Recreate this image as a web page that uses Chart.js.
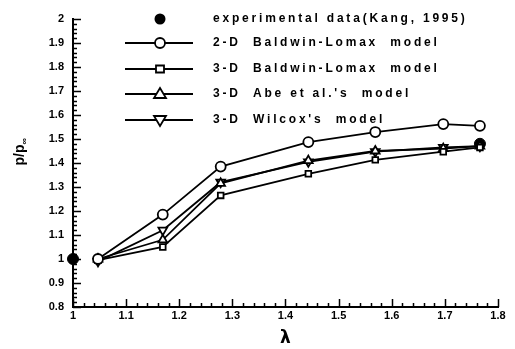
<!DOCTYPE html>
<html>
<head>
<meta charset="utf-8">
<script src="https://cdn.jsdelivr.net/npm/chart.js@4.4.0/dist/chart.umd.min.js"></script>
<style>
  html, body { margin: 0; padding: 0; background: #fff; }
  #wrap { width: 515px; height: 349px; }
</style>
</head>
<body>
<div id="wrap"><canvas id="myChart" width="515" height="349"></canvas></div>
<script>
// lambda positions of the computed points
const lambda = [1.047, 1.169, 1.278, 1.443, 1.569, 1.697, 1.766];
const bl2d = [1.0, 1.185, 1.385, 1.487, 1.529, 1.562, 1.555];
const bl3d = [0.995, 1.05, 1.265, 1.355, 1.413, 1.447, 1.465];
const abe = [1.0, 1.08, 1.315, 1.41, 1.45, 1.46, 1.47];
const wilcox = [0.99, 1.12, 1.32, 1.405, 1.447, 1.465, 1.47];
const expLambda = [1.0, 1.766];
const expP = [1.0, 1.48];

const legendLabels = [
  'experimental data(Kang, 1995)',
  '2-D  Baldwin-Lomax  model',
  '3-D  Baldwin-Lomax  model',
  '3-D  Abe et al.\'s  model',
  '3-D  Wilcox\'s  model'
];

const pts = (xs, ys) => xs.map((x, i) => ({ x: x, y: ys[i] }));

function lineSet(label, ys, style, extra) {
  return Object.assign({
    label: label,
    data: pts(lambda, ys),
    borderColor: '#000',
    borderWidth: 1.8,
    pointStyle: style,
    pointRadius: 5,
    pointBorderWidth: 1.8,
    pointBorderColor: '#000',
    pointBackgroundColor: '#fff',
    clip: false,
    tension: 0
  }, extra || {});
}

// inward ticks, y title and legend drawn on the canvas
const decor = {
  id: 'decor',
  beforeDraw(chart) {
    chart.ctx.letterSpacing = '0px';
  },
  afterDraw(chart) {
    const ctx = chart.ctx;
    const xs = chart.scales.x, ys = chart.scales.y;
    const a = chart.chartArea;
    ctx.save();
    ctx.strokeStyle = '#000';
    ctx.lineWidth = 1.5;
    ctx.beginPath();
    for (let i = 0; i <= 40; i++) {
      const v = 1 + i * 0.02;
      const px = Math.round(xs.getPixelForValue(v)) + 0.5;
      const len = i % 5 === 0 ? 8 : 4;
      ctx.moveTo(px, a.bottom);
      ctx.lineTo(px, a.bottom - len);
    }
    for (let i = 0; i <= 60; i++) {
      const v = 0.8 + i * 0.02;
      const py = Math.round(ys.getPixelForValue(v)) + 0.5;
      const len = i % 5 === 0 ? 8 : 4;
      ctx.moveTo(a.left, py);
      ctx.lineTo(a.left + len, py);
    }
    ctx.stroke();

    // y axis title p/p∞
    ctx.save();
    ctx.translate(20, 152);
    ctx.rotate(-Math.PI / 2);
    ctx.fillStyle = '#000';
    ctx.font = 'bold 14px "Liberation Sans", Arial, sans-serif';
    ctx.textBaseline = 'middle';
    ctx.textAlign = 'left';
    const main = 'p/p';
    const w = ctx.measureText(main).width;
    ctx.fillText(main, -w / 2 - 3, 0);
    ctx.font = 'bold 9px "Liberation Sans", Arial, sans-serif';
    ctx.fillText('\u221e', w / 2 - 3, 5);
    ctx.restore();

    // legend
    const rows = [19, 43, 69, 94, 120];
    const styles = ['dot', 'circle', 'rect', 'triangle', 'tri-down'];
    ctx.fillStyle = '#000';
    ctx.lineWidth = 1.8;
    rows.forEach((ry, i) => {
      if (i > 0) {
        ctx.beginPath();
        ctx.moveTo(125, ry);
        ctx.lineTo(193, ry);
        ctx.stroke();
      }
      const cx = 160;
      ctx.beginPath();
      if (styles[i] === 'dot') {
        ctx.arc(cx, ry, 5.5, 0, Math.PI * 2);
        ctx.fillStyle = '#000';
        ctx.fill();
      } else if (styles[i] === 'circle') {
        ctx.arc(cx, ry, 5, 0, Math.PI * 2);
        ctx.fillStyle = '#fff';
        ctx.fill();
        ctx.stroke();
      } else if (styles[i] === 'rect') {
        ctx.rect(cx - 4, ry - 3.5, 8, 7);
        ctx.fillStyle = '#fff';
        ctx.fill();
        ctx.stroke();
      } else if (styles[i] === 'triangle') {
        ctx.moveTo(cx, ry - 6);
        ctx.lineTo(cx + 6, ry + 4);
        ctx.lineTo(cx - 6, ry + 4);
        ctx.closePath();
        ctx.fillStyle = '#fff';
        ctx.fill();
        ctx.stroke();
      } else {
        ctx.moveTo(cx, ry + 6);
        ctx.lineTo(cx + 6, ry - 4);
        ctx.lineTo(cx - 6, ry - 4);
        ctx.closePath();
        ctx.fillStyle = '#fff';
        ctx.fill();
        ctx.stroke();
      }
      ctx.fillStyle = '#000';
      ctx.font = 'bold 12px "Liberation Sans", Arial, sans-serif';
      ctx.letterSpacing = '2.8px';
      ctx.textBaseline = 'middle';
      ctx.textAlign = 'left';
      ctx.fillText(legendLabels[i], 213, ry);
      ctx.letterSpacing = '0px';
    });
    ctx.restore();
  }
};

const ctx = document.getElementById('myChart').getContext('2d');
const myChart = new Chart(ctx, {
  type: 'line',
  data: {
    datasets: [
      lineSet(legendLabels[1], bl2d, 'circle'),
      lineSet(legendLabels[2], bl3d, 'rect', { pointRadius: 4 }),
      lineSet(legendLabels[3], abe, 'triangle'),
      lineSet(legendLabels[4], wilcox, 'triangle', { pointRotation: 180 }),
      {
        label: legendLabels[0],
        data: pts(expLambda, expP),
        showLine: false,
        clip: false,
        pointStyle: 'circle',
        pointRadius: 5.5,
        pointBackgroundColor: '#000',
        pointBorderColor: '#000',
        borderColor: '#000'
      }
    ]
  },
  options: {
    responsive: false,
    animation: false,
    layout: { padding: { left: 0, right: 17, top: 19, bottom: 0 } },
    plugins: {
      legend: { display: false },
      tooltip: { enabled: false }
    },
    scales: {
      x: {
        type: 'linear',
        min: 1,
        max: 1.8,
        afterFit(scale) { scale.height = 42; },
        ticks: {
          stepSize: 0.1,
          color: '#000',
          padding: 2,
          font: { family: '"Liberation Sans", Arial, sans-serif', size: 11, weight: 'bold' },
          callback: (v) => { const r = Math.round(v * 10) / 10; return r === 1 ? '1' : r.toFixed(1); }
        },
        grid: { drawOnChartArea: false, drawTicks: false },
        border: { color: '#000', width: 2 },
        title: {
          display: true,
          text: '\u03bb',
          color: '#000',
          padding: { top: 4, bottom: 0 },
          font: { family: '"DejaVu Sans", sans-serif', size: 17, weight: 'bold' }
        }
      },
      y: {
        type: 'linear',
        min: 0.8,
        max: 2,
        afterFit(scale) { scale.width = 73; },
        ticks: {
          stepSize: 0.1,
          color: '#000',
          padding: 9,
          font: { family: '"Liberation Sans", Arial, sans-serif', size: 11, weight: 'bold' },
          callback: (v) => { const r = Math.round(v * 10) / 10; return Number.isInteger(r) ? String(r) : r.toFixed(1); }
        },
        grid: { drawOnChartArea: false, drawTicks: false },
        border: { color: '#000', width: 2 }
      }
    }
  },
  plugins: [decor]
});
</script>
</body>
</html>
